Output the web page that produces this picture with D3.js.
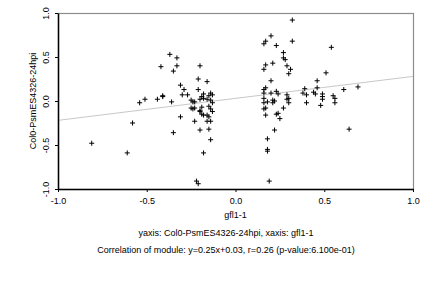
<!DOCTYPE html>
<html>
  <head>
    <meta charset="utf-8">
    <style>
    body { margin: 0; background: #fff; }
    svg { display: block; font-family: "Liberation Sans", Arial, sans-serif; }
    </style>
    <script src="https://d3js.org/d3.v7.min.js"></script>
  </head>
  <body>
    <script type="text/javascript">
    // gfl1-1 (x) vs Col0-PsmES4326-24hpi (y)
    var xVals = [-0.81,-0.61,-0.58,-0.54,-0.51,-0.44,-0.41,-0.41,-0.42,-0.37,-0.33,-0.33,-0.35,-0.36,-0.31,-0.29,-0.30,-0.27,-0.31,-0.35,
      -0.20,-0.21,-0.16,-0.21,-0.18,-0.14,-0.13,-0.25,-0.24,-0.23,-0.20,-0.19,-0.18,-0.16,-0.15,-0.14,-0.13,-0.19,-0.15,-0.25,
      -0.24,-0.23,-0.20,-0.14,-0.13,-0.19,-0.18,-0.16,-0.15,-0.23,-0.16,-0.14,-0.20,-0.15,-0.14,-0.18,-0.22,-0.21,-0.20,
      0.32,0.20,0.17,0.16,0.23,0.32,0.54,0.27,0.27,0.28,0.17,0.21,0.29,0.31,0.16,0.30,0.51,0.20,0.46,0.17,0.16,
      0.46,0.39,0.61,0.69,0.23,0.24,0.29,0.29,0.30,0.38,0.40,0.44,0.45,0.49,0.49,0.49,0.55,0.56,0.40,0.48,
      0.56,0.16,0.20,0.16,0.16,0.18,0.21,0.22,0.21,0.30,0.27,0.17,0.16,0.17,0.23,0.24,0.25,0.22,0.64,0.18,
      0.18,0.18,0.19];
    var yVals = [-0.48,-0.59,-0.25,-0.02,0.02,0.02,0.05,0.06,0.39,0.53,0.49,0.40,0.34,-0.01,0.18,0.13,0.07,0.07,-0.18,-0.36,
      0.40,0.25,0.22,0.13,0.08,0.09,0.07,0.01,-0.01,-0.01,0.02,0.05,0.03,0.02,0.06,0.01,-0.02,-0.07,-0.06,-0.08,
      -0.09,-0.08,-0.11,-0.09,-0.12,-0.15,-0.16,-0.16,-0.18,-0.23,-0.23,-0.23,-0.33,-0.32,-0.44,-0.59,-0.91,-0.94,-0.12,
      0.92,0.74,0.68,0.65,0.63,0.68,0.61,0.55,0.49,0.47,0.41,0.43,0.40,0.36,0.36,0.31,0.32,0.23,0.23,0.15,0.13,
      0.15,0.14,0.13,0.16,0.11,0.08,0.07,0.02,0.03,0.09,0.07,0.10,0.08,0.08,0.05,0.02,0.06,0.03,-0.02,-0.05,
      -0.02,0.09,0.09,0.03,-0.02,-0.01,-0.02,0.00,0.01,-0.02,-0.08,-0.08,-0.09,-0.16,-0.15,-0.14,-0.20,-0.33,-0.32,-0.43,
      -0.55,-0.57,-0.91];
    var xTicks = [-1.0, -0.5, 0.0, 0.5, 1.0];
    var yTicks = [-1.0, -0.5, 0.0, 0.5, 1.0];
    var slope = 0.25, intercept = 0.03;
    var xLabel = "gfl1-1";
    var yLabel = "Col0-PsmES4326-24hpi";
    var titles = ["yaxis: Col0-PsmES4326-24hpi, xaxis: gfl1-1",
                  "Correlation of module: y=0.25x+0.03, r=0.26 (p-value:6.100e-01)"];

    var W = 432, H = 288;
    var margin = {top: 13, right: 19, bottom: 99, left: 58},
    width = W - margin.left - margin.right,
    height = H - margin.top - margin.bottom;

    var fmt = function(d) { return d.toFixed(1); };
    var fs = 9;

    var svg = d3.select("body")
      .append("svg")
      .attr("width", W)
      .attr("height", H);

    var g = svg.append("g")
      .attr("transform", "translate(" + margin.left + "," + margin.top + ")");

    var xScale = d3.scaleLinear().domain([-1, 1]).range([0, width]);
    var yScale = d3.scaleLinear().domain([-1, 1]).range([height, 0]);

    // box
    g.append("rect")
      .attr("x", 0.5).attr("y", 0.5)
      .attr("width", width).attr("height", height)
      .attr("fill", "none")
      .attr("stroke", "#8c8c8c")
      .attr("stroke-width", 1.2);

    // regression line
    g.append("line")
      .attr("x1", xScale(-1)).attr("y1", yScale(slope * -1 + intercept))
      .attr("x2", xScale(1)).attr("y2", yScale(slope * 1 + intercept))
      .attr("stroke", "#c8c8c8")
      .attr("stroke-width", 1);

    // points as "+"
    var pts = xVals.map(function(x, i) { return {x: x, y: yVals[i]}; });
    g.selectAll(".pt")
      .data(pts)
      .enter().append("path")
      .attr("class", "pt")
      .attr("transform", function(d) { return "translate(" + xScale(d.x) + "," + yScale(d.y) + ")"; })
      .attr("d", "M-2.5,0H2.5M0,-2.5V2.5")
      .attr("stroke", "#000")
      .attr("stroke-width", 1)
      .attr("fill", "none");

    // x axis
    var xAxis = g.append("g")
      .attr("transform", "translate(0," + height + ")")
      .call(d3.axisBottom(xScale).tickValues(xTicks).tickFormat(fmt).tickSize(3).tickSizeOuter(0));
    xAxis.select(".domain").attr("stroke", "#000").attr("stroke-width", 1.5);
    xAxis.selectAll("text").attr("font-size", fs).attr("font-family", "Liberation Sans, Arial").attr("dy", "1.05em");

    // y axis (rotated labels)
    var yAxis = g.append("g")
      .call(d3.axisLeft(yScale).tickValues(yTicks).tickFormat(fmt).tickSize(3).tickSizeOuter(0));
    yAxis.select(".domain").attr("stroke", "#000").attr("stroke-width", 1.5);
    yAxis.selectAll("text")
      .attr("font-size", fs).attr("font-family", "Liberation Sans, Arial")
      .attr("x", null).attr("dy", null)
      .attr("text-anchor", "middle")
      .attr("transform", "translate(-9,0) rotate(-90)");

    // axis titles
    svg.append("text")
      .attr("x", margin.left + width / 2).attr("y", margin.top + height + 29)
      .attr("text-anchor", "middle").attr("font-size", fs)
      .text(xLabel);
    svg.append("text")
      .attr("transform", "translate(36," + (margin.top + height / 2) + ") rotate(-90)")
      .attr("text-anchor", "middle").attr("font-size", fs)
      .text(yLabel);

    // bottom titles
    svg.selectAll(".sub")
      .data(titles)
      .enter().append("text")
      .attr("class", "sub")
      .attr("x", 226)
      .attr("y", function(d, i) { return 236 + i * 17; })
      .attr("text-anchor", "middle").attr("font-size", fs)
      .text(function(d) { return d; });
    </script>
  </body>
</html>
